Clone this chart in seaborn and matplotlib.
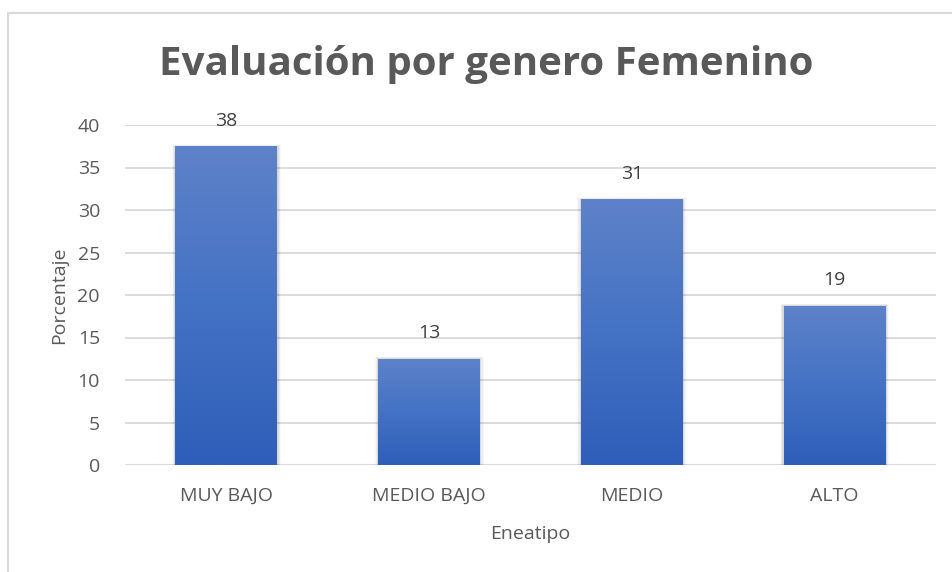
import numpy as np
import pandas as pd
import matplotlib
matplotlib.use("Agg")
import matplotlib.pyplot as plt
from matplotlib.colors import LinearSegmentedColormap
from matplotlib.patches import Rectangle
import seaborn as sns

# datos
categorias = ["MUY BAJO", "MEDIO BAJO", "MEDIO", "ALTO"]
porcentajes = [37.5, 12.5, 31.25, 18.75]
etiquetas = ["38", "13", "31", "19"]

df = pd.DataFrame({"Eneatipo": categorias, "Porcentaje": porcentajes})

sns.set_style("white")
plt.rcParams["font.family"] = ["Open Sans", "DejaVu Sans"]

gris = "#595959"
fig = plt.figure(figsize=(9.52, 5.72), dpi=100)
ax = fig.add_axes([125 / 952, 1 - 465 / 572, (936 - 125) / 952, (465 - 125) / 572])

sns.barplot(data=df, x="Eneatipo", y="Porcentaje", color="#4472C4", width=0.503,
            ax=ax, zorder=3)

# degradado en las barras
cmap = LinearSegmentedColormap.from_list("grad", ["#2E5EB9", "#4472C4", "#5E82C9"])
grad = np.linspace(0, 1, 256).reshape(-1, 1)
for bar in ax.patches:
    x0, y0 = bar.get_x(), bar.get_y()
    w, h = bar.get_width(), bar.get_height()
    # sombra suave
    for i, a in enumerate([0.08, 0.05, 0.025]):
        d = 0.006 * (i + 1)
        ax.add_patch(Rectangle((x0 - d, y0), w + 2 * d, h + 0.08 * (i + 1),
                               color="black", alpha=a, lw=0, zorder=2))
    im = ax.imshow(grad, extent=[x0, x0 + w, y0, y0 + h], origin="lower",
                   aspect="auto", cmap=cmap, zorder=4)
    im.set_clip_path(bar)
    bar.set_alpha(0)

for i, (v, t) in enumerate(zip(porcentajes, etiquetas)):
    ax.annotate(t, (i, v), xytext=(0, 12), textcoords="offset points",
                ha="center", va="bottom", fontsize=14, color="#404040")

ax.set_xlim(-0.5, 3.5)
ax.set_ylim(0, 40)
ax.set_yticks(range(0, 45, 5))
ax.yaxis.grid(True, color="#D9D9D9", lw=1.3, zorder=0)
ax.set_axisbelow(True)
for s in ax.spines.values():
    s.set_visible(False)
ax.axhline(0, color="#D9D9D9", lw=1.5, zorder=1)
ax.tick_params(axis="both", length=0, labelsize=14, labelcolor=gris)
ax.tick_params(axis="y", pad=18)
ax.tick_params(axis="x", pad=16)

ax.set_xlabel("Eneatipo", fontsize=14, color=gris, labelpad=14)
ax.set_ylabel("Porcentaje", fontsize=14, color=gris, labelpad=7)

fig.text(486 / 952, 1 - 64 / 572, "Evaluación por genero Femenino", ha="center",
         va="center", fontsize=29, fontweight="bold", color=gris)

# borde del gráfico (recortado a la derecha y abajo)
fig.patches.append(Rectangle((8 / 952, -0.1), 1.2, 1 - 13 / 572 + 0.1,
                             transform=fig.transFigure, fill=False,
                             edgecolor="#D9D9D9", lw=1.5))

fig.savefig("out.png", dpi=100)
